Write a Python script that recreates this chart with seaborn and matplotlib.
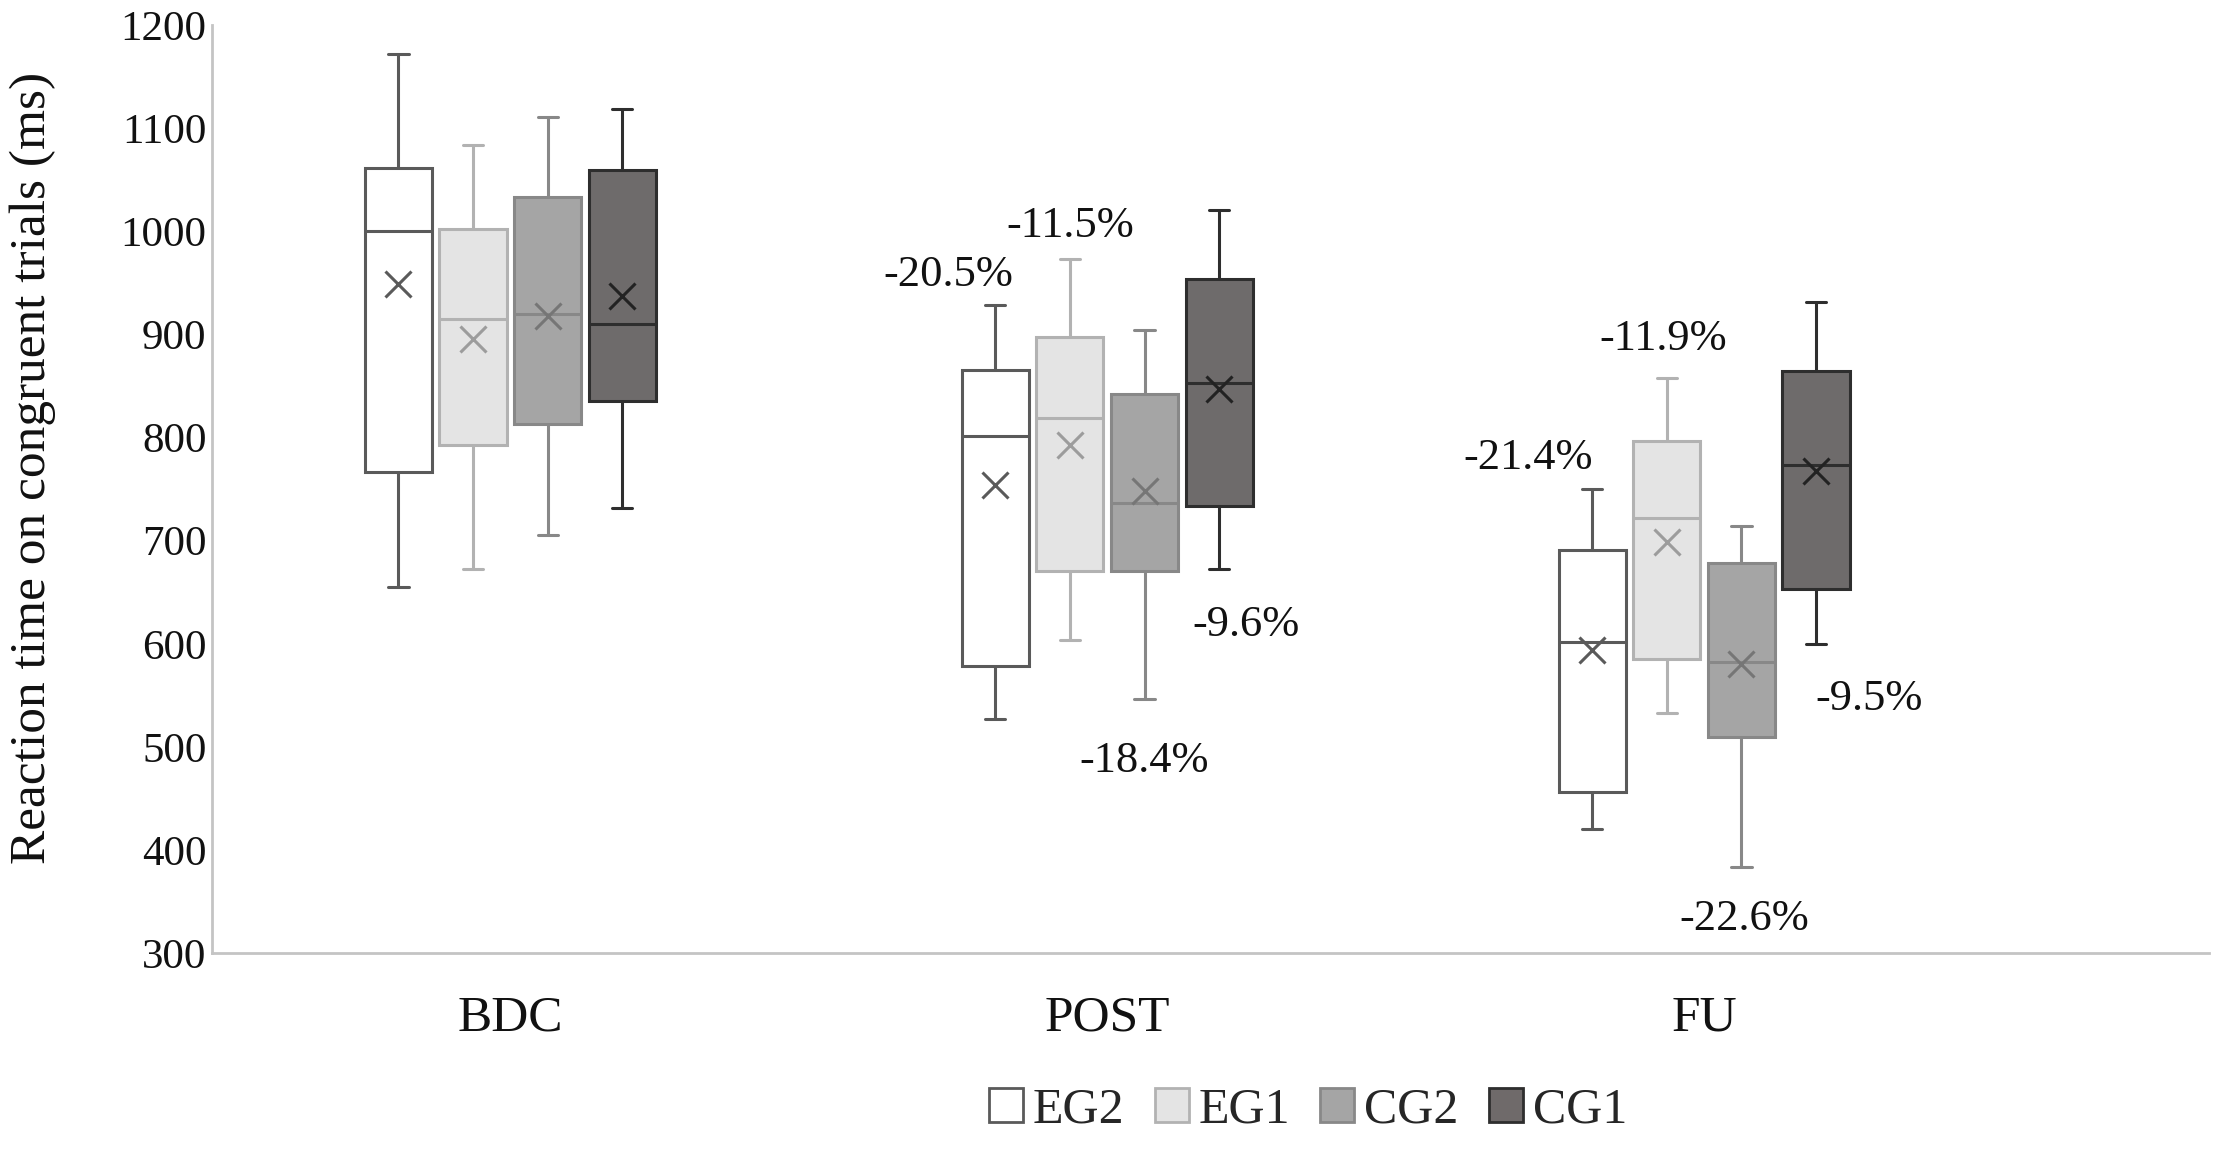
import numpy as np
import pandas as pd
import seaborn as sns
import matplotlib.pyplot as plt
from matplotlib.patches import Patch

# categories
phases = ['BDC', 'POST', 'FU']
groups = ['EG2', 'EG1', 'CG2', 'CG1']

# five-number summaries, one row per phase:
# [whisker low, Q1, median, Q3, whisker high]
eg2_box = [[655, 767, 1000, 1062, 1172], [527, 578, 802, 866, 929], [420, 456, 602, 691, 750]]
eg1_box = [[673, 793, 915, 1002, 1084], [604, 671, 819, 898, 973], [533, 585, 722, 797, 858]]
cg2_box = [[706, 813, 920, 1033, 1111], [546, 671, 737, 842, 904], [383, 510, 582, 678, 714]]
cg1_box = [[732, 836, 910, 1060, 1119], [673, 734, 853, 954, 1021], [600, 653, 773, 865, 932]]

# means (the x markers)
eg2_mean = [949, 754, 594]
eg1_mean = [896, 793, 699]
cg2_mean = [918, 748, 580]
cg1_mean = [937, 847, 768]

# percent change labels
pct_text = ['-20.5%', '-11.5%', '-9.6%', '-18.4%', '-21.4%', '-11.9%', '-9.5%', '-22.6%']
pct_x = [0.734, 0.938, 1.233, 1.062, 1.705, 1.931, 2.276, 2.067]
pct_y = [958, 1005, 618, 486, 780, 896, 546, 333]

fills = ['#ffffff', '#e4e4e4', '#a5a5a5', '#6f6a6a']
edges = ['#5a5a5a', '#b2b2b2', '#888888', '#2e2e2e']
mean_cols = ['#5a5a5a', '#9c9c9c', '#767676', '#222222']

# long table for seaborn
rows = []
for g, boxes in zip(groups, [eg2_box, eg1_box, cg2_box, cg1_box]):
    for p, vals in zip(phases, boxes):
        for v in vals:
            rows.append({'phase': p, 'group': g, 'rt': v})
df = pd.DataFrame(rows)

sns.set_theme(style='white')
plt.rcParams['font.family'] = ['Liberation Serif', 'DejaVu Serif']

fig = plt.figure(figsize=(22.17, 11.53), dpi=100)
ax = fig.add_axes([0.0956, 0.1735, 0.9008, 0.8045])

sns.boxplot(data=df, x='phase', y='rt', hue='group', order=phases, hue_order=groups,
            palette=fills, width=0.5, gap=0.1, whis=(0, 100), showfliers=False,
            linewidth=2.2, legend=False, ax=ax)

means = [eg2_mean, eg1_mean, cg2_mean, cg1_mean]
for cont, ec, mc, mv in zip(ax.containers, edges, mean_cols, means):
    centres = []
    for box in cont.boxes:
        box.set_edgecolor(ec)
        xs = box.get_path().vertices[:, 0]
        centres.append((xs.min() + xs.max()) / 2)
    for ln in list(cont.whiskers) + list(cont.medians):
        ln.set_color(ec)
    for ln in cont.caps:
        ln.set_color(ec)
        xd = np.asarray(ln.get_xdata(), dtype=float)
        c = xd.mean()
        ln.set_xdata([c - 0.017, c + 0.017])
    ax.plot(centres, mv, linestyle='none', marker='x', markersize=19,
            markeredgewidth=2.2, color=mc, zorder=5)

for t, x, y in zip(pct_text, pct_x, pct_y):
    ax.text(x, y, t, ha='center', va='center', fontsize=32, color='#111111')

ax.set_ylim(300, 1200)
ax.set_xlim(-0.5, 2.846)
ax.set_yticks(range(300, 1201, 100))
ax.set_xlabel('')
ax.set_ylabel('Reaction time on congruent trials (ms)', fontsize=37, color='#111111')
ax.yaxis.set_label_coords(-0.078, 0.523)
ax.tick_params(axis='both', length=0, labelcolor='#111111')
ax.tick_params(axis='x', pad=30, labelsize=37)
ax.tick_params(axis='y', pad=4, labelsize=31)
for s in ['top', 'right']:
    ax.spines[s].set_visible(False)
for s in ['left', 'bottom']:
    ax.spines[s].set_color('#c4c4c4')
    ax.spines[s].set_linewidth(2)

handles = [Patch(facecolor=f, edgecolor=e, linewidth=2) for f, e in zip(fills, edges)]
fig.legend(handles, groups, ncol=4, loc='center', bbox_to_anchor=(0.59, 0.037),
           frameon=False, fontsize=36, handlelength=0.68, handleheight=0.68,
           handletextpad=0.2, columnspacing=0.6)

fig.savefig('out.png', dpi=100, facecolor='white')
